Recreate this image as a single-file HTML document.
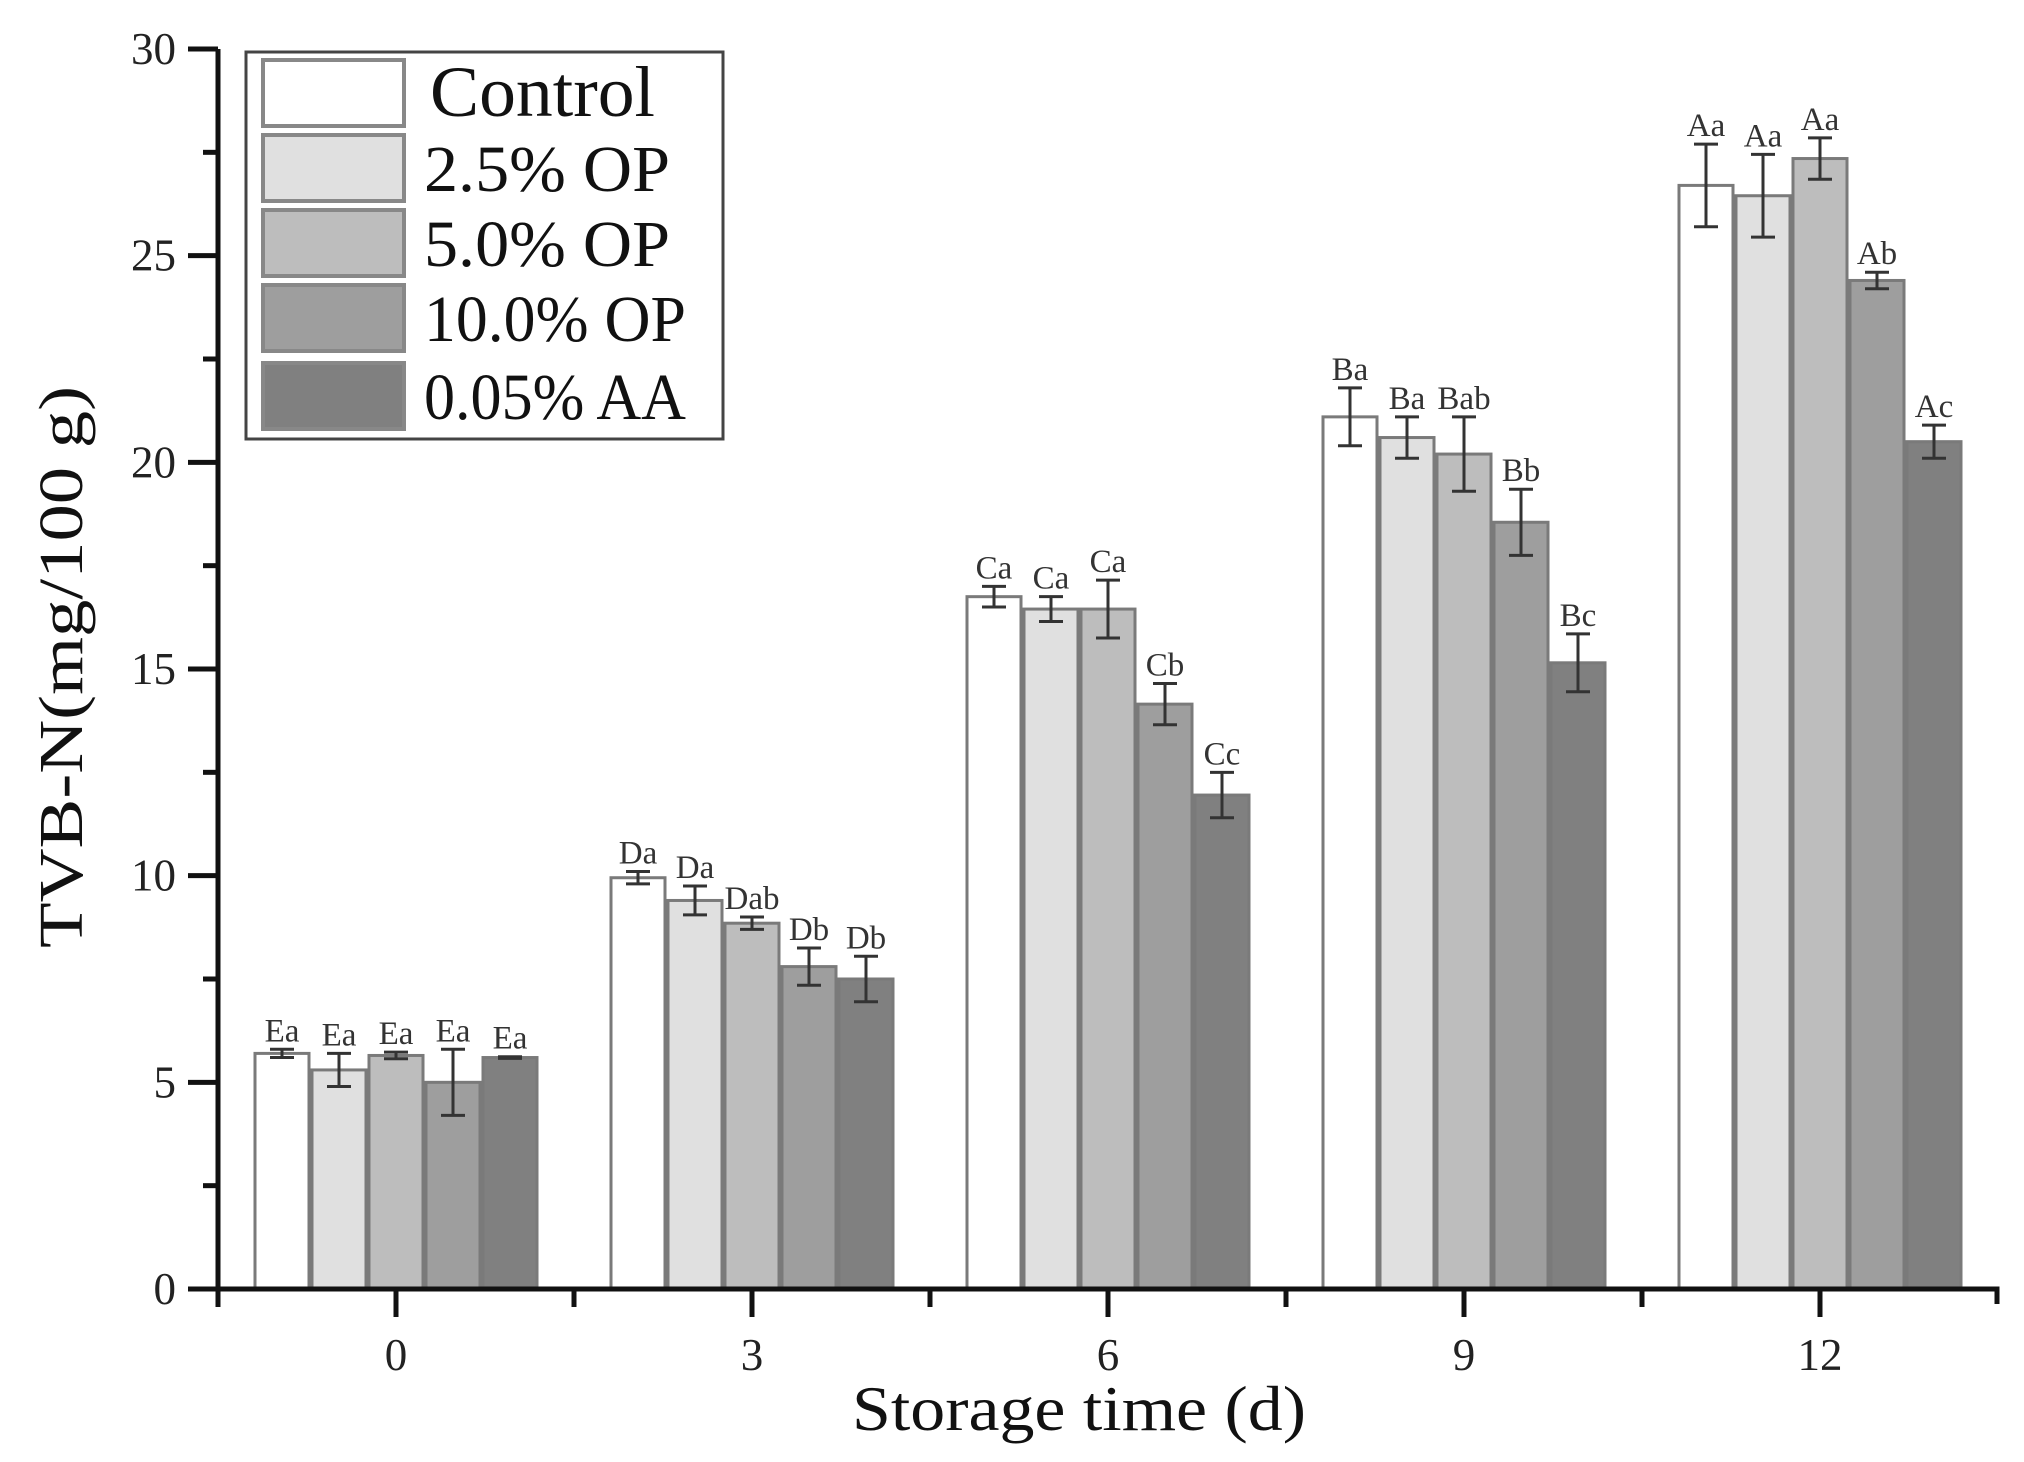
<!DOCTYPE html>
<html><head><meta charset="utf-8"><style>
html,body{margin:0;padding:0;background:#fff;}
svg{display:block;font-family:"Liberation Serif",serif;}
</style></head><body>
<svg id="chart" width="2024" height="1462" viewBox="0 0 2024 1462">
<g id="plot"></g>
</svg>
<script>
const categories = ["0","3","6","9","12"];
const seriesNames = ["Control","2.5%  OP","5.0%  OP","10.0% OP","0.05% AA"];
const seriesColors = ["#ffffff","#e0e0e0","#bdbdbd","#9e9e9e","#808080"];
const controlVals = [5.7, 9.95, 16.75, 21.1, 26.7];
const op25Vals   = [5.3, 9.4, 16.45, 20.6, 26.45];
const op50Vals   = [5.65, 8.85, 16.45, 20.2, 27.35];
const op100Vals  = [5.0, 7.8, 14.15, 18.55, 24.4];
const aaVals     = [5.6, 7.5, 11.95, 15.15, 20.5];
const controlErr = [0.1, 0.15, 0.25, 0.7, 1.0];
const op25Err    = [0.4, 0.35, 0.3, 0.5, 1.0];
const op50Err    = [0.08, 0.15, 0.7, 0.9, 0.5];
const op100Err   = [0.8, 0.45, 0.5, 0.8, 0.2];
const aaErr      = [0.02, 0.55, 0.55, 0.7, 0.4];
const controlLbl = ["Ea","Da","Ca","Ba","Aa"];
const op25Lbl    = ["Ea","Da","Ca","Ba","Aa"];
const op50Lbl    = ["Ea","Dab","Ca","Bab","Aa"];
const op100Lbl   = ["Ea","Db","Cb","Bb","Ab"];
const aaLbl      = ["Ea","Db","Cc","Bc","Ac"];
const yTicks = [0,5,10,15,20,25,30];

const values=[controlVals,op25Vals,op50Vals,op100Vals,aaVals];
const errs=[controlErr,op25Err,op50Err,op100Err,aaErr];
const lbls=[controlLbl,op25Lbl,op50Lbl,op100Lbl,aaLbl];

const NS="http://www.w3.org/2000/svg";
const g=document.getElementById('plot');
const X0=218, X1=1997, Y0=1289, Y30=49;
const y=v=>Y0-(v/30)*(Y0-Y30);
const groupW=356, firstCenter=396, barW=57;
const xc=i=>firstCenter+i*groupW;
function el(t,a,p){const e=document.createElementNS(NS,t);for(const k in a)e.setAttribute(k,a[k]);(p||g).appendChild(e);return e;}

for(let s=0;s<5;s++){
  for(let i=0;i<categories.length;i++){
    const cx=xc(i)+(s-2)*barW, v=values[s][i];
    const r=el('rect',{x:cx-barW/2+1.5,y:y(v),width:barW-3,height:Y0-y(v),fill:seriesColors[s],stroke:"#7a7a7a","stroke-width":3});
    
    
    const e=errs[s][i];
    const eb=el('path',{d:`M${cx},${y(v+e)}V${y(v-e)}M${cx-12},${y(v+e)}h24M${cx-12},${y(v-e)}h24`,stroke:"#333","stroke-width":3,fill:"none"});
    
    
    const t=el('text',{x:cx,y:y(v+e)-8,"text-anchor":"middle","font-size":33,fill:"#333"});
    t.textContent=lbls[s][i];
    
    
  }
}
const ax=el('path',{d:`M${X0},${Y30}V${Y0}M${X0-30},${Y0}H${X1}V${Y0+15}M${X0-30},${Y30}H${X0}`,stroke:"#111","stroke-width":5,fill:"none"});


yTicks.forEach(v=>{
  el('line',{x1:X0-30,x2:X0,y1:y(v),y2:y(v),stroke:"#111","stroke-width":5});
  if(v<30) el('line',{x1:X0-15,x2:X0,y1:y(v+2.5),y2:y(v+2.5),stroke:"#111","stroke-width":5});
  const t=el('text',{x:X0-42,y:y(v)+15,"text-anchor":"end","font-size":45,fill:"#222"});
  t.textContent=v;
  
  
});
el('line',{x1:X0,x2:X0,y1:Y0,y2:Y0+18,stroke:"#111","stroke-width":5});
categories.forEach((c,i)=>{
  el('line',{x1:xc(i),x2:xc(i),y1:Y0,y2:Y0+28,stroke:"#111","stroke-width":5});
  if(i<categories.length-1) el('line',{x1:xc(i)+groupW/2,x2:xc(i)+groupW/2,y1:Y0,y2:Y0+18,stroke:"#111","stroke-width":5});
  const t=el('text',{x:xc(i),y:1370,"text-anchor":"middle","font-size":45,fill:"#222"});
  t.textContent=c;
  
  
});
const xt=el('text',{x:1079,y:1430,"text-anchor":"middle","font-size":64,fill:"#111",textLength:454,lengthAdjust:"spacingAndGlyphs"});
xt.textContent="Storage time (d)";


const yt=el('text',{x:0,y:0,"text-anchor":"middle","font-size":62,fill:"#111",textLength:562,lengthAdjust:"spacingAndGlyphs",transform:"translate(82,667) rotate(-90)"});
yt.textContent="TVB-N(mg/100 g)";


const lg=el('g',{});


el('rect',{x:246,y:52,width:477,height:387,fill:"#fff",stroke:"#444","stroke-width":3},lg);
const rowsY=[58,133,208,283,361];
seriesNames.forEach((n,s)=>{
  const sw=el('rect',{x:263,y:rowsY[s]+2,width:141,height:66,fill:seriesColors[s],stroke:"#888","stroke-width":4},lg);
  
  
  const t=el('text',{x:s===0?430:424,y:rowsY[s]+58,"font-size":s===0?72:66,fill:"#111",textLength:s===0?225:(s===1?246:(s===2?246:262)),lengthAdjust:"spacingAndGlyphs"},lg);
  t.setAttribute('xml:space','preserve');
  t.textContent=n;
  
  
});
</script>
</body></html>
